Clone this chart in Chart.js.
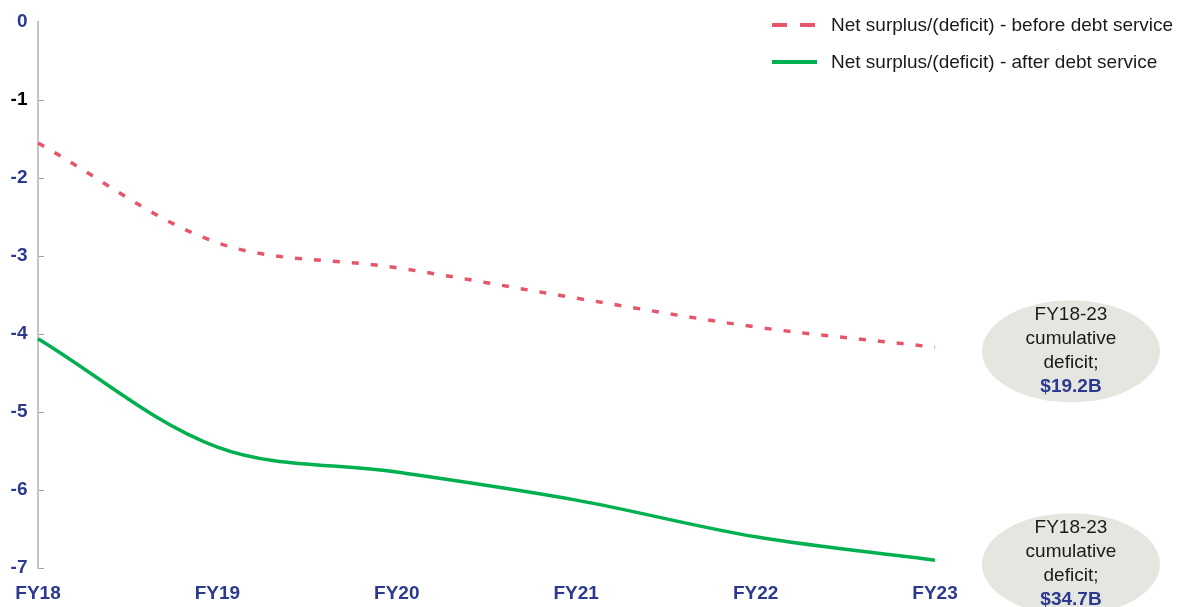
<!DOCTYPE html>
<html>
<head>
<meta charset="utf-8">
<title>Net surplus/(deficit)</title>
<script src="https://cdn.jsdelivr.net/npm/chart.js@4.4.1/dist/chart.umd.min.js"></script>
<style>
  html, body { margin: 0; padding: 0; background: #ffffff; }
  #wrap { width: 1186px; height: 607px; position: relative; }
</style>
</head>
<body>
<div id="wrap"><canvas id="chart"></canvas></div>
<script>
// Fiscal years on the horizontal axis
const categories = ['FY18', 'FY19', 'FY20', 'FY21', 'FY22', 'FY23'];

// Net surplus/(deficit), $B
const beforeDebtService = [-1.55, -2.83, -3.15, -3.54, -3.91, -4.17];
const afterDebtService  = [-4.06, -5.45, -5.77, -6.13, -6.60, -6.90];

const seriesLabels = [
  'Net surplus/(deficit) - before debt service',
  'Net surplus/(deficit) - after debt service'
];

// Cumulative totals shown in the callouts
const calloutLines = ['FY18-23', 'cumulative', 'deficit;'];
const calloutTotals = ['$19.2B', '$34.7B'];

// Value axis range and tick labels
const yMin = -7;
const yMax = 0;
const yTickLabels = ['0', '-1', '-2', '-3', '-4', '-5', '-6', '-7'];

const FONT = '"Liberation Sans", Arial, Helvetica, sans-serif';
const NAVY = '#2b3990';
const RED = '#e5566a';
const GREEN = '#00b050';

// Legend stacked in the top-right corner
const cornerLegend = {
  id: 'cornerLegend',
  afterDraw(chart) {
    const ctx = chart.ctx;
    const x0 = chart.width - 414;
    const rowY = [25, 62];
    ctx.save();
    chart.data.datasets.forEach((ds, i) => {
      const y = rowY[i];
      ctx.beginPath();
      ctx.strokeStyle = ds.borderColor;
      ctx.lineWidth = 4;
      ctx.lineCap = 'butt';
      ctx.setLineDash(ds.borderDash && ds.borderDash.length ? [15, 13] : []);
      ctx.moveTo(x0, y);
      ctx.lineTo(x0 + 45, y);
      ctx.stroke();
      ctx.setLineDash([]);
      ctx.fillStyle = '#1a1a1a';
      ctx.font = '19px ' + FONT;
      ctx.textAlign = 'left';
      ctx.textBaseline = 'middle';
      ctx.fillText(ds.label, x0 + 59, y + 1);
    });
    ctx.restore();
  }
};

// Grey oval callouts beside the last point of each series
const totalCallouts = {
  id: 'totalCallouts',
  afterDraw(chart) {
    const ctx = chart.ctx;
    const area = chart.chartArea;
    const yScale = chart.scales.y;
    ctx.save();
    chart.data.datasets.forEach((ds, i) => {
      const last = ds.data[ds.data.length - 1];
      const cx = area.right + 136;
      const cy = yScale.getPixelForValue(last) + 4;
      ctx.beginPath();
      ctx.ellipse(cx, cy, 89, 51, 0, 0, Math.PI * 2);
      ctx.fillStyle = '#e6e6e1';
      ctx.fill();
      ctx.textAlign = 'center';
      ctx.textBaseline = 'middle';
      ctx.font = '19px ' + FONT;
      ctx.fillStyle = '#1a1a1a';
      calloutLines.forEach((t, k) => {
        ctx.fillText(t, cx, cy - 36 + k * 24);
      });
      ctx.font = 'bold 19px ' + FONT;
      ctx.fillStyle = NAVY;
      ctx.fillText(calloutTotals[i], cx, cy + 36);
    });
    ctx.restore();
  }
};

new Chart(document.getElementById('chart'), {
  type: 'line',
  data: {
    labels: categories,
    datasets: [
      {
        label: seriesLabels[0],
        data: beforeDebtService,
        borderColor: RED,
        borderWidth: 3.5,
        borderDash: [7, 12],
        borderCapStyle: 'butt',
        pointRadius: 0,
        tension: 0.34,
        fill: false
      },
      {
        label: seriesLabels[1],
        data: afterDebtService,
        borderColor: GREEN,
        borderWidth: 3.5,
        pointRadius: 0,
        tension: 0.34,
        fill: false
      }
    ]
  },
  options: {
    responsive: true,
    maintainAspectRatio: false,
    animation: false,
    layout: { padding: { top: 22, right: 251, left: 0, bottom: 0 } },
    plugins: {
      legend: { display: false },
      tooltip: { enabled: false }
    },
    scales: {
      x: {
        offset: false,
        grid: { display: false },
        border: { display: false },
        ticks: {
          autoSkip: false,
          maxRotation: 0,
          padding: 6,
          color: NAVY,
          font: { family: FONT, size: 19, weight: 'bold' }
        },
        afterFit(scale) { scale.height = 39; }
      },
      y: {
        min: yMin,
        max: yMax,
        grid: {
          drawOnChartArea: false,
          drawTicks: true,
          tickLength: -6,
          tickWidth: 1,
          tickColor: (c) => (c.tick && c.tick.value === yMax ? 'rgba(0,0,0,0)' : '#a0a0a0')
        },
        border: { display: true, color: '#c4c4c4', width: 2 },
        ticks: {
          stepSize: 1,
          padding: 16.5,
          color: (c) => (c.tick && c.tick.value === -1 ? '#000000' : NAVY),
          font: { family: FONT, size: 19, weight: 'bold' },
          callback: (value) => yTickLabels[Math.round(yMax - value)]
        },
        afterFit(scale) {
          scale.width = 38;
          scale.paddingTop = 0;
          scale.paddingBottom = 0;
        }
      }
    }
  },
  plugins: [cornerLegend, totalCallouts]
});
</script>
</body>
</html>
